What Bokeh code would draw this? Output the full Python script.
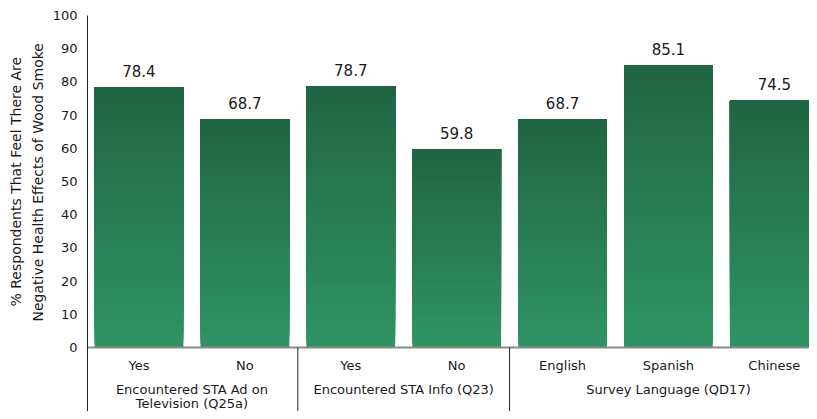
from bokeh.plotting import figure
from bokeh.models import Range1d, FixedTicker, ColumnDataSource, Title
from bokeh.core.properties import value
from bokeh.embed import file_html
from bokeh.resources import INLINE

# ---- data ----
categories = ["Yes", "No", "Yes", "No", "English", "Spanish", "Chinese"]
values = [78.4, 68.7, 78.7, 59.8, 68.7, 85.1, 74.5]
group_labels = ["Encountered STA Ad on\nTelevision (Q25a)", "Encountered STA Info (Q23)", "Survey Language (QD17)"]
group_sizes = [2, 2, 3]
y_ticks = [0, 10, 20, 30, 40, 50, 60, 70, 80, 90, 100]
y_title = "% Respondents That Feel There Are\nNegative Health Effects of Wood Smoke"

FONT = "DejaVu Sans"
TXT = "#1a1a1a"
TOP_RGB = (33, 101, 67)
BOT_RGB = (47, 148, 99)

X0, X1 = 0.014, 6.832
Y0, Y1 = -19.28, 100

p = figure(width=809, height=411,
           x_range=Range1d(X0, X1), y_range=Range1d(Y0, Y1),
           output_backend="svg", toolbar_location=None, x_axis_location=None,
           min_border_left=87, min_border_right=0, min_border_top=15, min_border_bottom=0)
p.outline_line_color = None
p.xgrid.visible = False
p.ygrid.visible = False
p.background_fill_color = "white"
p.border_fill_color = "white"

yax = p.yaxis[0]
yax.ticker = FixedTicker(ticks=y_ticks)
yax.major_tick_line_color = None
yax.minor_tick_line_color = None
yax.major_tick_out = 0
yax.major_label_standoff = 10
yax.axis_line_color = "#222222"
yax.axis_line_width = 1
yax.major_label_text_font = FONT
yax.major_label_text_font_size = "13px"
yax.major_label_text_color = TXT

# axis title (two lines) as left-side titles, anchored so they centre on the 0-100 span
title_lines = y_title.split("\n")
title_offsets = [105, 90]      # distance (px) from frame bottom to start of each line
title_standoffs = [0, 8]
for line, off, so in reversed(list(zip(title_lines, title_offsets, title_standoffs))):
    p.add_layout(Title(text=line, align="left", offset=off, standoff=so,
                       text_font=FONT, text_font_size="14px", text_font_style="normal",
                       text_line_height=1.0, text_color=TXT), "left")

# ---- gradient bars (slices built from the data values) ----
N = 60
xs, bots, tops, cols = [], [], [], []
for i, v in enumerate(values):
    for k in range(N):
        f = k / (N - 1)
        r = round(BOT_RGB[0] + (TOP_RGB[0] - BOT_RGB[0]) * f)
        g = round(BOT_RGB[1] + (TOP_RGB[1] - BOT_RGB[1]) * f)
        b = round(BOT_RGB[2] + (TOP_RGB[2] - BOT_RGB[2]) * f)
        xs.append(i + 0.5)
        bots.append(v * k / N)
        tops.append(v)
        cols.append("#%02x%02x%02x" % (r, g, b))
p.vbar(x=xs, bottom=bots, top=tops, width=0.838, fill_color=cols, line_color=None)

# x axis baseline
ncat = len(categories)
p.segment(x0=[0], y0=[0], x1=[ncat], y1=[0], line_color="#8a8a8a", line_width=2)

# group separators
bounds = []
acc = 0
for s in group_sizes[:-1]:
    acc += s
    bounds.append(acc)
p.segment(x0=bounds, y0=[0] * len(bounds), x1=bounds, y1=[Y0] * len(bounds),
          line_color="#222222", line_width=1)

# value labels
src = ColumnDataSource(dict(x=[i + 0.5 for i in range(ncat)], y=values,
                            t=["%.1f" % v for v in values]))
p.text(x="x", y="y", text="t", source=src, text_align="center", text_baseline="bottom",
       y_offset=-10, text_font=value(FONT), text_font_size="15px", text_color=TXT)

# category labels
p.text(x=[i + 0.5 for i in range(ncat)], y=[-5.3] * ncat, text=categories,
       text_align="center", text_baseline="middle",
       text_font=value(FONT), text_font_size="13px", text_color=TXT)

# group labels
gx, gy, gt = [], [], []
start = 0
for lab, s in zip(group_labels, group_sizes):
    cx = start + s / 2
    for j, line in enumerate(lab.split("\n")):
        gx.append(cx)
        gy.append(-12.65 - j * 4.22)
        gt.append(line)
    start += s
p.text(x=gx, y=gy, text=gt, text_align="center", text_baseline="middle",
       text_font=value(FONT), text_font_size="13px", text_color=TXT)

open("out.html", "w").write(file_html(p, INLINE))
